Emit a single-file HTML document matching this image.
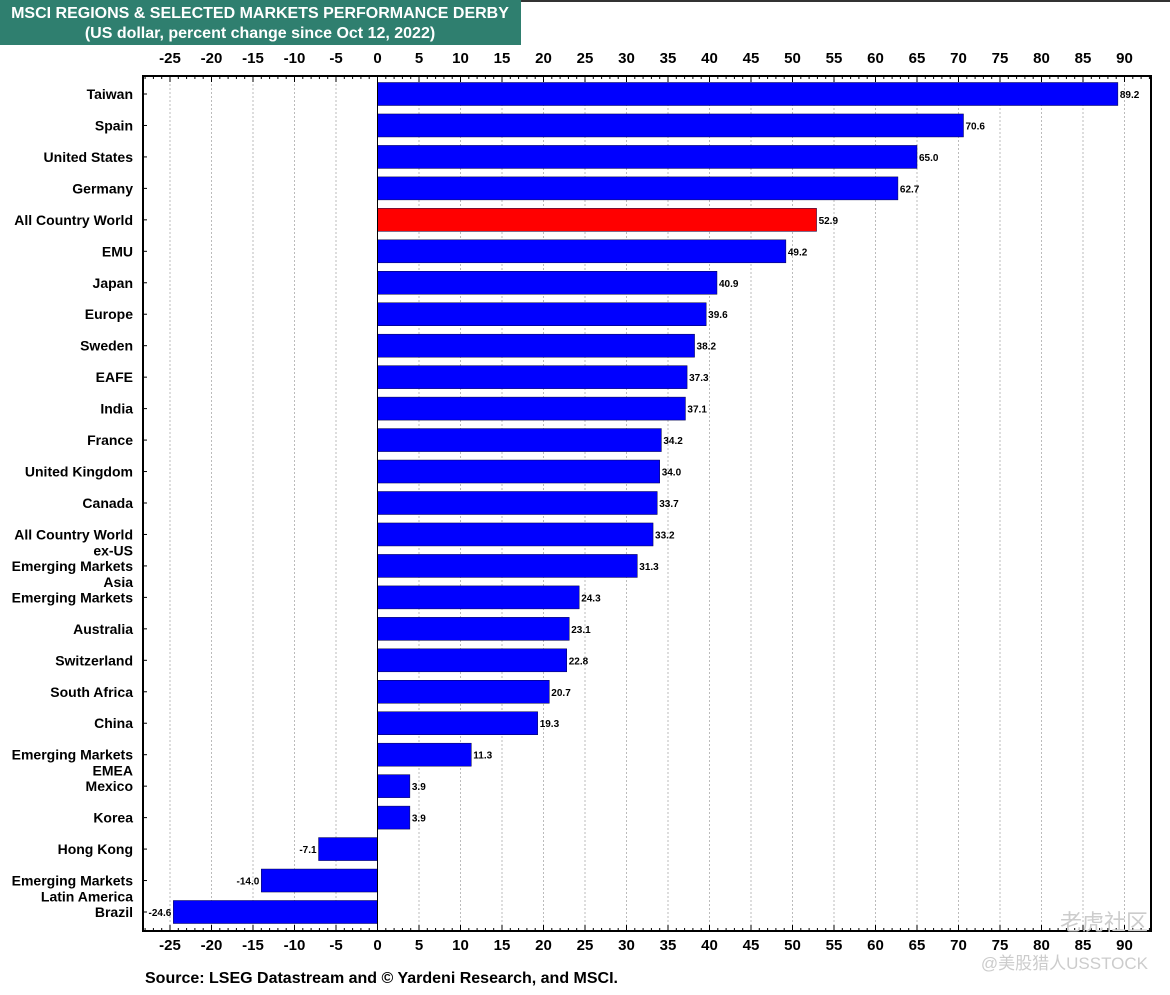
<!DOCTYPE html>
<html><head><meta charset="utf-8"><style>
body{margin:0;background:#fff;width:1170px;height:990px;overflow:hidden;font-family:"Liberation Sans","Noto Sans CJK SC",sans-serif}
</style></head><body>
<svg id="c" width="1170" height="990" xmlns="http://www.w3.org/2000/svg" font-family="Liberation Sans, Noto Sans CJK SC, sans-serif"></svg>
<script>
const categories=["Taiwan","Spain","United States","Germany","All Country World","EMU","Japan","Europe","Sweden","EAFE","India","France","United Kingdom","Canada","All Country World|ex-US","Emerging Markets|Asia","Emerging Markets","Australia","Switzerland","South Africa","China","Emerging Markets|EMEA","Mexico","Korea","Hong Kong","Emerging Markets|Latin America","Brazil"];
const values=[89.2,70.6,65.0,62.7,52.9,49.2,40.9,39.6,38.2,37.3,37.1,34.2,34.0,33.7,33.2,31.3,24.3,23.1,22.8,20.7,19.3,11.3,3.9,3.9,-7.1,-14.0,-24.6];
const highlight=["All Country World"];
const ticks=[-25,-20,-15,-10,-5,0,5,10,15,20,25,30,35,40,45,50,55,60,65,70,75,80,85,90];
const svg=document.getElementById('c');const NS='http://www.w3.org/2000/svg';
function el(t,a,txt){const e=document.createElementNS(NS,t);for(const k in a)e.setAttribute(k,a[k]);if(txt!=null)e.textContent=txt;svg.appendChild(e);return e;}
const x=v=>377.5+v*8.3;
const y0=94,step=(912-94)/26;const y=i=>y0+i*step;
const L=143,T=76,R=1151,B=931;
let e=el('line',{x1:0,y1:1,x2:1170,y2:1,stroke:'#333','stroke-width':2});


e=el('rect',{x:0,y:0,width:521,height:45,fill:'#2f7f6f'});


e=el('text',{x:260,y:18,'text-anchor':'middle',fill:'#fff','font-size':16,'font-weight':'bold'},'MSCI REGIONS & SELECTED MARKETS PERFORMANCE DERBY');


e=el('text',{x:260,y:38,'text-anchor':'middle',fill:'#fff','font-size':16,'font-weight':'bold'},'(US dollar, percent change since Oct 12, 2022)');


ticks.forEach(t=>{if(t===0)return;
 const g=el('line',{x1:x(t),y1:T,x2:x(t),y2:B,stroke:'#bbb','stroke-width':1,'stroke-dasharray':'2,2'});
 
 });
for(let v=-28;v<=93;v++){if(x(v)<=L||x(v)>=R)continue;const len=v%5===0?6:3;
 el('line',{x1:x(v),y1:T,x2:x(v),y2:T+len,stroke:'#000','stroke-width':1});
 el('line',{x1:x(v),y1:B,x2:x(v),y2:B-len,stroke:'#000','stroke-width':1});}
ticks.forEach(t=>{
 let a=el('text',{x:x(t),y:63,'text-anchor':'middle','font-size':15,'font-weight':'bold'},String(t));
 
 
 a=el('text',{x:x(t),y:950,'text-anchor':'middle','font-size':15,'font-weight':'bold'},String(t));
 
 });
categories.forEach((c,i)=>{const v=values[i];const cy=y(i);
 const b=el('rect',{x:Math.min(x(0),x(v)),y:cy-11.5,width:Math.abs(x(v)-x(0)),height:23,fill:highlight.includes(c)?'#ff0000':'#0000ff',stroke:'#000040','stroke-width':0.5});
 
 
 const lb=el('text',{x:v>=0?x(v)+2:x(v)-2,y:cy+4,'text-anchor':v>=0?'start':'end','font-size':10,'font-weight':'bold'},v.toFixed(1));
 
 
 el('line',{x1:L,y1:cy,x2:L+4,y2:cy,stroke:'#000'});
 const parts=c.split('|');
 parts.forEach((p,j)=>{const t=el('text',{x:133,y:cy+5+j*16,'text-anchor':'end','font-size':14,'font-weight':'bold'},p);
  
  });
});
e=el('line',{x1:x(0),y1:T,x2:x(0),y2:B,stroke:'#000','stroke-width':1});


e=el('rect',{x:L,y:T,width:R-L,height:B-T,fill:'none',stroke:'#000','stroke-width':2});


e=el('text',{x:145,y:983,'font-size':16,'font-weight':'bold'},'Source: LSEG Datastream and © Yardeni Research, and MSCI.');


e=el('text',{x:1148,y:930,'text-anchor':'end','font-size':22,fill:'#ccc'},'老虎社区');


e=el('text',{x:1148,y:969,'text-anchor':'end','font-size':17,fill:'#ccc'},'@美股猎人USSTOCK');


</script>
</body></html>
